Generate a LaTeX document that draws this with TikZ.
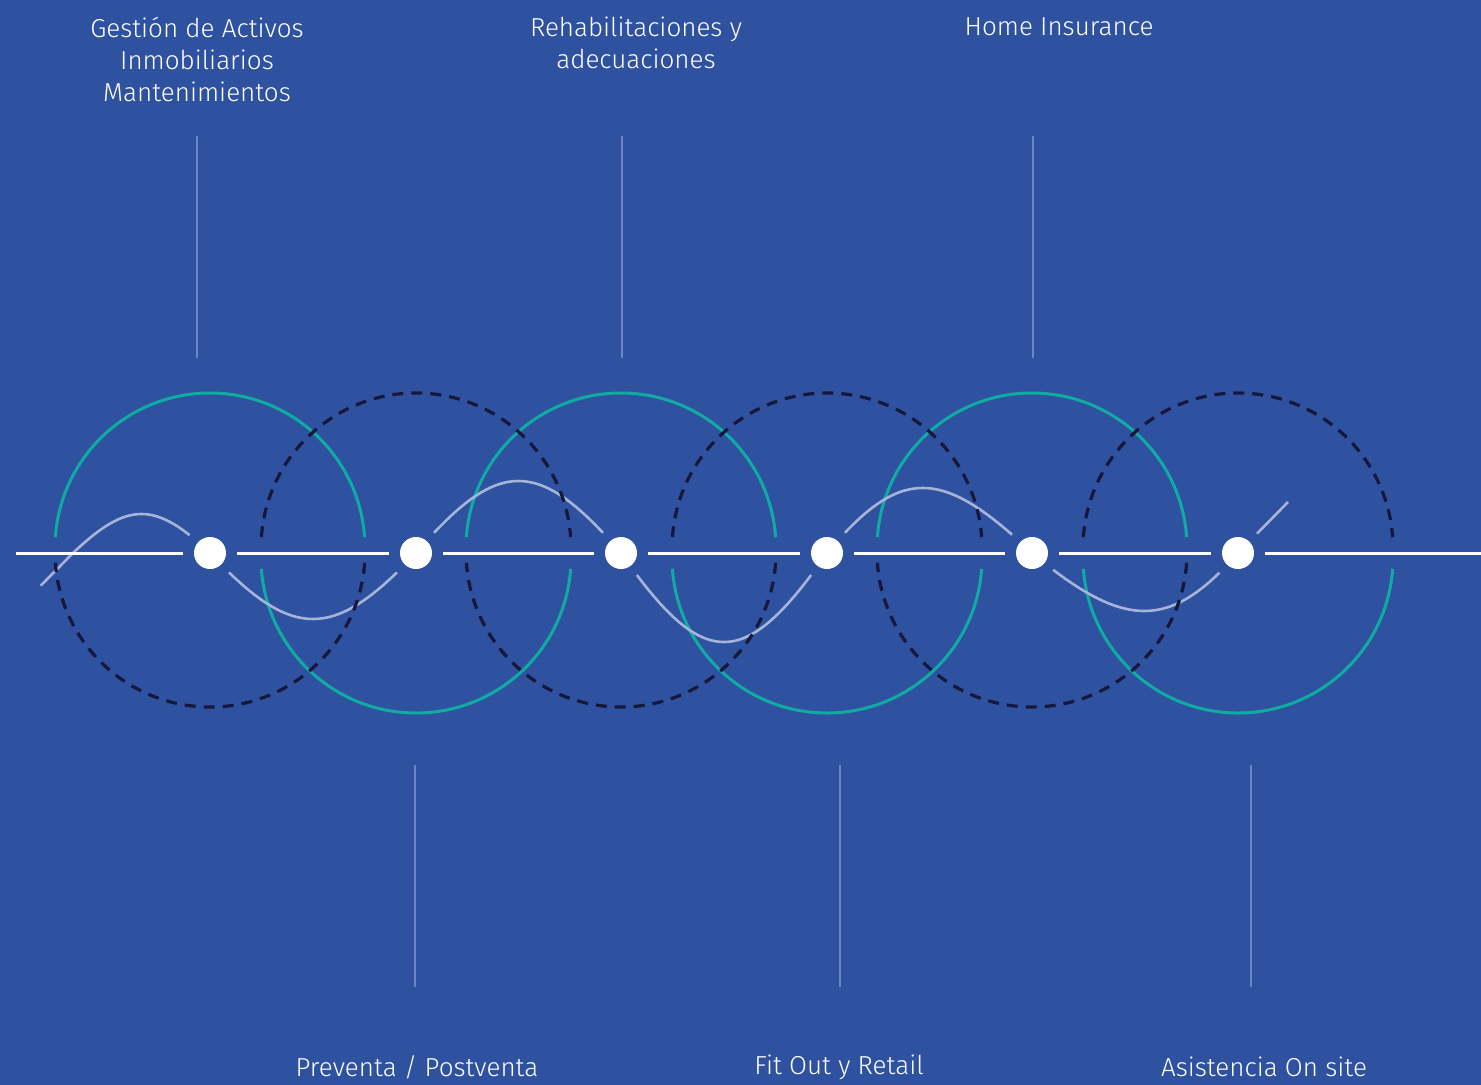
\documentclass[tikz,border=0pt]{standalone}
\usepackage{fontspec}
\setmainfont{Fira Sans Light}
\definecolor{bgblue}{HTML}{2E52A0}
\definecolor{tealc}{HTML}{10ABA3}
\definecolor{darkdash}{HTML}{16173A}
\definecolor{wavec}{HTML}{A6B4D9}
\definecolor{vlinec}{HTML}{6A86C6}
\begin{document}
\begin{tikzpicture}[x=0.5pt,y=-0.5pt,
  dot/.style={circle,fill=white,draw=none,minimum size=16pt,inner sep=0pt},
  gapdisc/.style={fill=bgblue},
  mainline/.style={white,line width=1.5pt},
  tealarc/.style={tealc,line width=1.5pt},
  dasharc/.style={darkdash,line width=1.6pt,dash pattern=on 5.5pt off 4pt},
  wave/.style={wavec,line width=1.3pt},
  vline/.style={vlinec,line width=1pt},
  label/.style={text=white,font=\fontsize{13pt}{16pt}\selectfont,align=center,inner sep=0pt}]
\fill[bgblue] (0,0) rectangle (1481,1085);
\useasboundingbox (0,0) rectangle (1481,1085);

% teal halves
\foreach \cx in {210,621,1032}{
  \draw[tealarc] (\cx,548) ++(184:155) arc[start angle=184,end angle=356,radius=155];
}
\foreach \cx in {416,827,1238}{
  \draw[tealarc] (\cx,558) ++(4:155) arc[start angle=4,end angle=176,radius=155];
}

% wave
\draw[wave] (40.7,585.7) -- (73,553)
  .. controls (127.8,501) and (155.2,501) .. (210,553)
  .. controls (292.4,641) and (333.6,641) .. (416,553)
  .. controls (498.4,457) and (538.6,457) .. (621,553)
  .. controls (703.4,671.7) and (744.6,671.7) .. (827,553)
  .. controls (900,466.3) and (941,466.3) .. (1032,553)
  .. controls (1125,630.3) and (1170,630.3) .. (1238,553)
  -- (1288,502);

% dashed halves
\foreach \cx in {210,621,1032}{
  \draw[dasharc] (\cx,552) ++(4:155) arc[start angle=4,end angle=176,radius=155];
}
\foreach \cx in {416,827,1238}{
  \draw[dasharc] (\cx,548) ++(184:155) arc[start angle=184,end angle=356,radius=155];
}

% gaps around the dots
\foreach \cx in {210,416,621,827,1032,1238}{
  \fill[gapdisc] (\cx,553) circle[radius=27];
}

% dots
\node[dot] (d1) at (210,553) {};
\node[dot] (d2) at (416,553) {};
\node[dot] (d3) at (621,553) {};
\node[dot] (d4) at (827,553) {};
\node[dot] (d5) at (1032,553) {};
\node[dot] (d6) at (1238,553) {};
\coordinate (L) at (16,553);
\coordinate (R) at (1481,553);

\draw[mainline,shorten >=5.5pt] (L) -- (d1);
\draw[mainline,shorten <=5.5pt,shorten >=5.5pt] (d1) -- (d2);
\draw[mainline,shorten <=5.5pt,shorten >=5.5pt] (d2) -- (d3);
\draw[mainline,shorten <=5.5pt,shorten >=5.5pt] (d3) -- (d4);
\draw[mainline,shorten <=5.5pt,shorten >=5.5pt] (d4) -- (d5);
\draw[mainline,shorten <=5.5pt,shorten >=5.5pt] (d5) -- (d6);
\draw[mainline,shorten <=5.5pt] (d6) -- (R);

% vertical lines
\coordinate (t1a) at (197,136); \coordinate (t1b) at (197,358);
\coordinate (t2a) at (622,136); \coordinate (t2b) at (622,358);
\coordinate (t3a) at (1033,136); \coordinate (t3b) at (1033,358);
\coordinate (b1a) at (415,765); \coordinate (b1b) at (415,987);
\coordinate (b2a) at (840,765); \coordinate (b2b) at (840,987);
\coordinate (b3a) at (1251,765); \coordinate (b3b) at (1251,987);
\draw[vline] (t1a) -- (t1b);
\draw[vline] (t2a) -- (t2b);
\draw[vline] (t3a) -- (t3b);
\draw[vline] (b1a) -- (b1b);
\draw[vline] (b2a) -- (b2b);
\draw[vline] (b3a) -- (b3b);

% labels
\node[label] (l1) at (197,59) {Gestión de Activos\\Inmobiliarios\\Mantenimientos};
\node[label] (l2) at (636,43) {Rehabilitaciones y\\adecuaciones};
\node[label] (l3) at (1059,27) {Home Insurance};
\node[label] (l4) at (417,1067) {Preventa / Postventa};
\node[label] (l5) at (839,1067) {Fit Out y Retail};
\node[label] (l6) at (1264,1067) {Asistencia On site};
\end{tikzpicture}
\end{document}
